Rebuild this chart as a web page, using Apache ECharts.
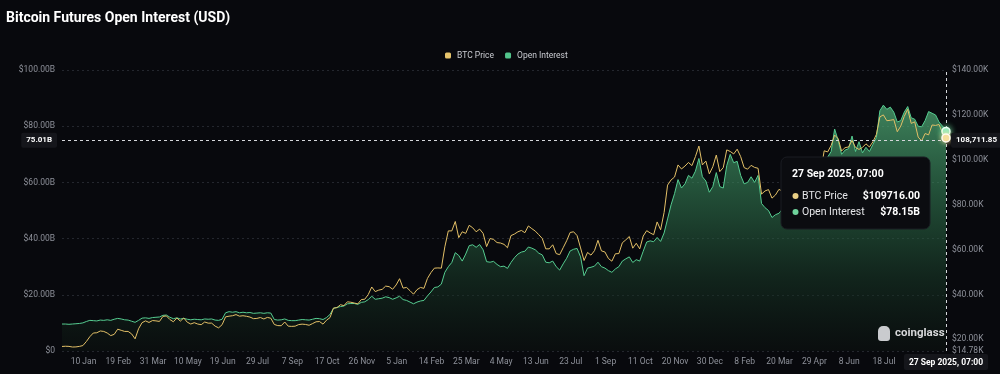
<!DOCTYPE html>
<html><head><meta charset="utf-8">
<script src="https://cdn.jsdelivr.net/npm/echarts@6/dist/echarts.min.js"></script>
<style>html,body{margin:0;padding:0;background:#08090d;}#c{width:1000px;height:374px;}</style>
</head><body><div id="c"></div>
<script>
// ---------------- data ----------------
const TITLE = 'Bitcoin Futures Open Interest (USD)';
const LAST_TIME = '2025-09-27T07:00:00Z';
const STEP_DAYS = 4; // sampling step of the points below, ending at LAST_TIME
const LAST_TIME_LABEL = '27 Sep 2025, 07:00';

// BTC price (USD)
const btcPrice = [
16800,16900,16840,16550,16600,16830,17200,19000,21150,22800,
22900,23700,23500,22800,21650,22200,24500,24000,23500,23500,
22400,20200,24700,27400,28200,27500,28350,28200,27950,30200,
30400,28800,27800,29500,28100,29500,27600,26800,27400,26800,
26500,27700,27200,27200,25850,25100,26500,30000,30300,30500,
31000,30300,30500,30250,29900,29200,29300,29700,29050,29750,
29400,26600,26100,26050,27700,25850,25750,25850,26550,26750,
26600,26250,27000,27800,27900,26750,28500,29650,33900,34100,
35400,35000,36700,36500,36150,35800,37700,37850,39950,43300,
41250,41900,42250,43700,43450,42300,44200,47000,42800,43100,
41650,40100,42100,43100,42700,47100,49700,51700,51800,51700,
61200,68300,68300,72500,65300,67900,67200,70800,69700,67900,
69100,67200,61300,64900,64500,63100,62900,62300,60800,66200,
66900,67900,68500,67500,70500,69300,68200,66600,64900,60300,
60300,62100,58200,57700,60800,63900,67600,67900,66200,60700,
55100,58700,57500,59500,64100,59400,58900,56000,54800,58100,
58200,63000,64300,65800,60600,62800,60300,66000,68400,67400,
66600,72300,68800,76500,88700,91000,92300,97700,95900,97200,
98800,97400,101400,106100,97700,99400,93700,96900,102100,94700,
96500,104400,103700,102600,104700,101400,96500,95800,97500,96600,
96200,84700,86100,86700,82900,84300,86800,86000,87200,82500,
83800,76300,85200,84000,85100,93900,95000,96900,94700,104000,
103500,106400,111000,109400,103900,105400,105700,108600,105500,104600,
105500,107100,105700,108000,111300,119100,120000,117400,117600,117900,
112500,115000,119300,122500,116200,116900,110100,108400,111700,111100,
115500,115300,115700,112000,109716
];

// Open interest (USD billions)
const openInterest = [
9.6,9.6,9.5,9.6,9.7,9.8,10.0,10.5,10.9,10.8,
10.7,11.0,10.9,11.1,10.9,11.3,11.6,11.4,11.1,11.0,
10.6,10.2,10.9,11.7,11.8,11.6,11.9,12.0,12.1,12.7,
12.8,12.0,11.5,11.8,11.4,11.6,11.3,11.1,11.3,11.2,
11.1,11.4,11.3,11.4,11.0,10.9,11.3,13.6,14.0,13.8,
14.0,13.6,13.8,13.6,13.7,13.4,13.5,13.6,13.4,13.6,
13.5,11.2,11.0,11.1,11.4,10.9,10.8,10.8,11.0,11.2,
11.1,11.0,11.3,11.6,11.5,11.2,11.9,13.0,15.2,15.5,
15.8,16.0,16.8,16.9,16.9,16.6,17.3,17.5,18.3,19.5,
18.4,18.6,18.8,19.3,19.0,18.4,18.9,19.5,18.3,18.0,
17.4,16.8,17.4,17.8,18.0,19.6,21.0,22.6,22.8,23.8,
28.0,30.0,31.5,35.0,34.0,32.0,34.5,37.5,37.8,36.9,
37.9,36.0,31.8,31.6,31.9,30.8,30.0,30.2,29.4,31.5,
33.2,34.5,35.2,35.5,37.0,36.6,36.0,34.8,34.2,31.6,
31.4,32.0,30.0,28.8,31.0,33.0,35.6,36.2,36.5,33.5,
26.8,29.5,29.8,30.2,31.6,30.0,29.5,28.6,28.0,29.2,
30.0,32.0,32.8,33.5,31.5,32.5,32.0,35.5,38.8,39.2,
38.9,40.4,39.0,42.0,47.0,52.0,56.0,61.0,58.0,59.5,
62.5,61.5,64.0,68.5,62.0,60.5,56.5,58.5,63.5,58.5,
58.0,66.0,70.0,67.0,67.5,62.5,59.5,60.0,62.0,60.0,
62.5,52.5,51.0,50.0,47.5,48.5,49.0,50.5,51.0,48.5,
49.5,46.0,50.0,50.5,51.5,57.0,58.5,61.0,60.0,67.0,
69.0,71.0,79.0,75.0,70.0,71.5,72.0,76.5,71.0,74.5,
70.5,72.5,71.0,73.5,76.0,85.5,87.5,86.0,86.8,85.0,
81.5,82.0,85.0,87.0,83.0,82.5,80.0,79.8,82.0,85.2,
84.6,84.0,81.5,80.0,78.15
];

// x-axis tick labels
const tickDates = ['2023-01-10','2023-02-19','2023-03-31','2023-05-10','2023-06-19','2023-07-29',
  '2023-09-07','2023-10-17','2023-11-26','2024-01-05','2024-02-14','2024-03-25','2024-05-04',
  '2024-06-13','2024-07-23','2024-09-01','2024-10-11','2024-11-20','2024-12-30','2025-02-08',
  '2025-03-20','2025-04-29','2025-06-08','2025-07-18'];
const tickLabels = ['10 Jan','19 Feb','31 Mar','10 May','19 Jun','29 Jul','7 Sep','17 Oct','26 Nov',
  '5 Jan','14 Feb','25 Mar','4 May','13 Jun','23 Jul','1 Sep','11 Oct','20 Nov','30 Dec','8 Feb',
  '20 Mar','29 Apr','8 Jun','18 Jul'];
// right axis (BTC price) label values
const priceTicks = [14780,20000,40000,60000,80000,100000,120000,140000];
// crosshair position
const CROSS_OI = 75.01;
const CROSS_BTC = 108711.85;

// ---------------- chart ----------------
const DAY = 86400000;
const lastTs = Date.parse(LAST_TIME);
const n = btcPrice.length;
const times = btcPrice.map((_, i) => lastTs - (n - 1 - i) * STEP_DAYS * DAY);
const btcData = times.map((t, i) => [t, btcPrice[i]]);
const oiData = times.map((t, i) => [t, openInterest[i]]);
const tickValues = tickDates.map(d => Date.parse(d + 'T00:00:00Z'));

const FONT = 'Roboto';
const AXIS_COLOR = '#8e919a';
const crossLabel = {
  show: true, color: '#ffffff', fontSize: 8, fontWeight: 'bold', fontFamily: FONT,
  backgroundColor: '#15161b', padding: [4, 5, 3, 5], borderRadius: 2, distance: 5
};

const chart = echarts.init(document.getElementById('c'));
chart.setOption({
  backgroundColor: '#08090d',
  animation: false,
  textStyle: { fontFamily: FONT },
  title: {
    text: TITLE, left: 6, top: 11, padding: 0,
    textStyle: { color: '#ffffff', fontSize: 14, fontWeight: 'bold', fontFamily: FONT }
  },
  legend: {
    data: ['BTC Price', 'Open Interest'],
    top: 46, left: 440, itemWidth: 6, itemHeight: 6, itemGap: 11, icon: 'roundRect',
    textStyle: { color: '#c9cbd1', fontSize: 8.5, fontFamily: FONT, padding: [0, 0, 0, 1] }
  },
  grid: { left: 62, right: 54, top: 70, bottom: 23 },
  xAxis: {
    type: 'value', min: times[0], max: times[n - 1], scale: true,
    axisLine: { show: false }, axisTick: { show: false }, splitLine: { show: false },
    axisLabel: {
      customValues: tickValues, color: AXIS_COLOR, fontSize: 8.5, margin: 6, hideOverlap: false,
      formatter: (v) => { const k = tickValues.indexOf(v); return k >= 0 ? tickLabels[k] : ''; }
    }
  },
  yAxis: [
    {
      type: 'value', min: 0, max: 100, interval: 20, position: 'left',
      axisLine: { show: false }, axisTick: { show: false },
      splitLine: { lineStyle: { color: '#24272e', type: [2, 3], width: 1 } },
      axisLabel: {
        color: AXIS_COLOR, fontSize: 8.5, margin: 7,
        formatter: (v) => v === 0 ? '$0' : '$' + v.toFixed(2) + 'B'
      }
    },
    {
      type: 'value', min: priceTicks[0], max: priceTicks[priceTicks.length - 1], position: 'right',
      axisLine: { show: false }, axisTick: { show: false }, splitLine: { show: false },
      axisLabel: {
        customValues: priceTicks, color: AXIS_COLOR, fontSize: 8.5, margin: 6,
        formatter: (v) => '$' + (v / 1000).toFixed(2) + 'K'
      }
    }
  ],
  series: [
    {
      name: 'Open Interest', type: 'line', yAxisIndex: 0, data: oiData,
      showSymbol: false, symbol: 'none', z: 2,
      lineStyle: { color: '#55cc90', width: 1 },
      itemStyle: { color: '#52c48b' },
      areaStyle: {
        color: new echarts.graphic.LinearGradient(0, 0, 0, 1, [
          { offset: 0, color: 'rgba(90,192,132,0.95)' },
          { offset: 0.35, color: 'rgba(54,132,88,0.82)' },
          { offset: 0.7, color: 'rgba(26,62,42,0.75)' },
          { offset: 1, color: 'rgba(12,20,16,0.6)' }
        ])
      },
      markLine: {
        silent: true, symbol: 'none', animation: false,
        lineStyle: { color: '#d4d6da', type: [3, 3], width: 1 },
        data: [
          { yAxis: CROSS_OI, label: Object.assign({}, crossLabel, { position: 'start', formatter: CROSS_OI.toFixed(2) + 'B' }) },
          { xAxis: lastTs, label: Object.assign({}, crossLabel, { position: 'start', fontSize: 8.5, distance: 3, formatter: LAST_TIME_LABEL }) }
        ]
      },
      markPoint: {
        silent: true, animation: false, symbol: 'circle', symbolSize: 8,
        label: { show: false },
        itemStyle: { color: '#9fe9bf', borderColor: '#eafff3', borderWidth: 1.5, shadowBlur: 6, shadowColor: 'rgba(120,240,170,0.9)' },
        data: [{ coord: [lastTs, openInterest[n - 1]] }]
      }
    },
    {
      name: 'BTC Price', type: 'line', yAxisIndex: 1, data: btcData,
      showSymbol: false, symbol: 'none', z: 3,
      lineStyle: { color: '#e3c067', width: 1 },
      itemStyle: { color: '#e6c46c' },
      markLine: {
        silent: true, symbol: 'none', animation: false,
        lineStyle: { color: '#d4d6da', type: [3, 3], width: 1 },
        data: [
          { yAxis: CROSS_BTC, label: Object.assign({}, crossLabel, { position: 'end', formatter: CROSS_BTC.toLocaleString('en-US', { minimumFractionDigits: 2 }) }) }
        ]
      },
      markPoint: {
        silent: true, animation: false, symbol: 'circle', symbolSize: 8,
        label: { show: false },
        itemStyle: { color: '#f3dd9c', borderColor: '#fffaf0', borderWidth: 1.5, shadowBlur: 5, shadowColor: 'rgba(255,230,160,0.8)' },
        data: [{ coord: [lastTs, btcPrice[n - 1]] }]
      }
    }
  ],
  graphic: [
    // watermark
    { type: 'rect', z: 50, shape: { x: 878, y: 326, width: 12, height: 15, r: [5, 5, 3, 3] }, style: { fill: '#c9cbce' } },
    { type: 'text', z: 50, x: 895, y: 333, style: { text: 'coinglass', fill: '#d6d7d9', font: 'bold 11.5px Roboto', textVerticalAlign: 'middle' } },
    // tooltip
    { type: 'rect', z: 100, shape: { x: 781, y: 157, width: 149, height: 72, r: 6 }, style: { fill: '#0b0c10', stroke: '#1a1c22', lineWidth: 1 } },
    { type: 'text', z: 101, x: 792, y: 174, style: { text: LAST_TIME_LABEL, fill: '#ffffff', font: 'bold 10.5px Roboto', textVerticalAlign: 'middle' } },
    { type: 'circle', z: 101, shape: { cx: 795.5, cy: 196, r: 3 }, style: { fill: '#e9cf85' } },
    { type: 'text', z: 101, x: 802, y: 196, style: { text: 'BTC Price', fill: '#e4e5e8', font: '10.5px Roboto', textVerticalAlign: 'middle' } },
    { type: 'text', z: 101, x: 920, y: 196, style: { text: '$' + btcPrice[n - 1].toFixed(2), fill: '#ffffff', font: 'bold 10.5px Roboto', textAlign: 'right', textVerticalAlign: 'middle' } },
    { type: 'circle', z: 101, shape: { cx: 795.5, cy: 212, r: 3 }, style: { fill: '#6fd39c' } },
    { type: 'text', z: 101, x: 802, y: 212, style: { text: 'Open Interest', fill: '#e4e5e8', font: '10.5px Roboto', textVerticalAlign: 'middle' } },
    { type: 'text', z: 101, x: 920, y: 212, style: { text: '$' + openInterest[n - 1].toFixed(2) + 'B', fill: '#ffffff', font: 'bold 10.5px Roboto', textAlign: 'right', textVerticalAlign: 'middle' } }
  ]
});
</script>
</body></html>
